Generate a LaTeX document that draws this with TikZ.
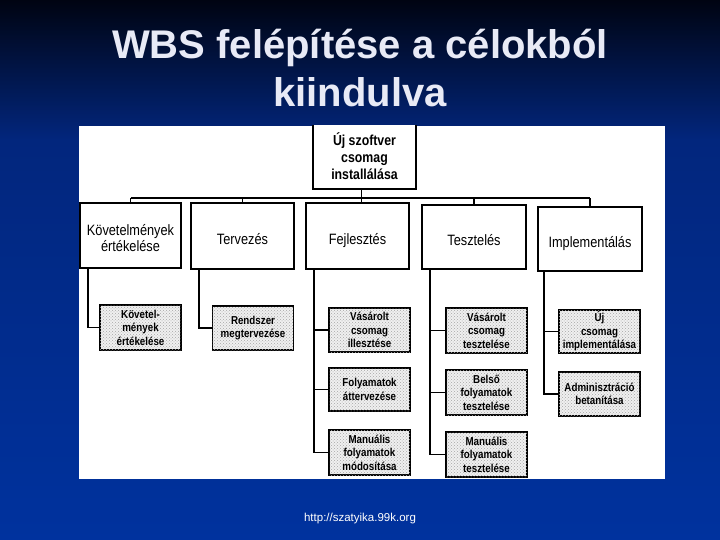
\documentclass[tikz,border=0pt]{standalone}
\usepackage{fontspec}
\setmainfont{Liberation Sans}
\newfontfamily\narrowfont[FakeStretch=0.85]{Liberation Sans}
\usetikzlibrary{patterns}

\definecolor{slidetop}{RGB}{0,4,18}
\definecolor{slidemid}{RGB}{2,38,125}
\definecolor{slidebot}{RGB}{0,50,158}
\definecolor{titlecol}{RGB}{232,234,246}

\begin{document}
\begin{tikzpicture}[x=1pt,y=-1pt]

\tikzstyle{goal}=[draw, line width=1.8pt, fill=white, align=center, inner sep=0pt, text height=52pt, text depth=0pt, font=\narrowfont\bfseries\fontsize{14.5}{17}\selectfont]
\tikzstyle{phase}=[draw, line width=1.8pt, fill=white, align=center, inner sep=0pt, text height=17pt, text depth=0pt, font=\narrowfont\fontsize{15}{16}\selectfont]
\tikzstyle{task}=[draw, line width=1.5pt, fill=black!6, postaction={pattern=crosshatch dots, pattern color=black!35}, align=center, inner sep=0pt, font=\narrowfont\bfseries\fontsize{11.5}{13.5}\selectfont, minimum width=81pt]
\tikzstyle{link}=[line width=1.8pt]

\useasboundingbox (0,0) rectangle (720,540);
\shade[top color=slidetop, bottom color=slidemid] (0,0) rectangle (720,140);
\shade[top color=slidemid, bottom color=slidebot] (0,140) rectangle (720,540);

\node[text=titlecol, font=\bfseries\fontsize{40}{48}\selectfont, align=center, anchor=base] (title) at (360,107) {WBS felépítése a célokból\\kiindulva};
\node[text=white, font=\fontsize{11.5}{13}\selectfont] (url) at (360,519) {http://szatyika.99k.org};

\fill[white] (79,126) rectangle (665,479);

\begin{scope}
\clip (79,126) rectangle (665,479);

% fo cel
\node[goal, minimum width=103pt, minimum height=70pt] (uj_szoftver) at (364.5,154) {Új szoftver\\csomag\\installálása};

% fazisok
\node[phase, text height=32pt, minimum width=101pt, minimum height=65pt] (kovetelmeny) at (130.5,235.5) {Követelmények\\értékelése};
\node[phase, minimum width=103pt, minimum height=66pt] (tervezes) at (242.5,236) {Tervezés};
\node[phase, minimum width=103pt, minimum height=66pt] (fejlesztes) at (357.5,236) {Fejlesztés};
\node[phase, minimum width=104pt, minimum height=64pt] (teszteles) at (474,237) {Tesztelés};
\node[phase, minimum width=104pt, minimum height=64pt] (implementalas) at (590,239) {Implementálás};

% feladatok
\node[task, minimum height=45pt] (kov_ertekeles) at (140.5,327.5) {Követel-\\mények\\értékelése};
\node[task, minimum height=44pt] (rendszer_terv) at (253,328) {Rendszer\\megtervezése};
\node[task, minimum height=44pt] (csomag_illesztes) at (369.5,330) {Vásárolt\\csomag\\illesztése};
\node[task, minimum height=43pt] (folyamat_atterv) at (369.5,389.5) {Folyamatok\\áttervezése};
\node[task, minimum height=45pt] (manualis_mod) at (369.5,452.5) {Manuális\\folyamatok\\módosítása};
\node[task, minimum height=45pt] (csomag_teszt) at (486.5,330.5) {Vásárolt\\csomag\\tesztelése};
\node[task, minimum height=45pt] (belso_teszt) at (486.5,392.5) {Belső\\folyamatok\\tesztelése};
\node[task, minimum height=45pt] (manualis_teszt) at (486.5,454.5) {Manuális\\folyamatok\\tesztelése};
\node[task, minimum height=43pt] (uj_csomag_impl) at (599.5,331.5) {Új\\csomag\\implementálása};
\node[task, minimum height=44pt] (admin_betanitas) at (599.5,394) {Adminisztráció\\betanítása};

\coordinate (bus_left) at (kovetelmeny.north |- 0,198);
\coordinate (bus_right) at (implementalas.north |- 0,198);

\draw[link] (bus_left) -- (bus_right);
\draw[link] ([xshift=-3pt]uj_szoftver.south) -- ([xshift=-3pt]uj_szoftver.south |- fejlesztes.north);
\foreach \p in {kovetelmeny, tervezes, teszteles, implementalas}
  \draw[link] (\p.north) -- (\p.north |- bus_left);

\draw[link] ([xshift=9pt]kovetelmeny.south west) |- (kov_ertekeles.west);
\draw[link] ([xshift=9pt]tervezes.south west) |- (rendszer_terv.west);
\draw[link] ([xshift=9pt]fejlesztes.south west) |- (manualis_mod.west);
\draw[link] ([xshift=9pt]fejlesztes.south west) |- (csomag_illesztes.west);
\draw[link] ([xshift=9pt]fejlesztes.south west) |- (folyamat_atterv.west);
\draw[link] ([xshift=9pt]teszteles.south west) |- (manualis_teszt.west);
\draw[link] ([xshift=9pt]teszteles.south west) |- (csomag_teszt.west);
\draw[link] ([xshift=9pt]teszteles.south west) |- (belso_teszt.west);
\draw[link] ([xshift=7pt]implementalas.south west) |- (admin_betanitas.west);
\draw[link] ([xshift=7pt]implementalas.south west) |- (uj_csomag_impl.west);
\end{scope}

\end{tikzpicture}
\end{document}
